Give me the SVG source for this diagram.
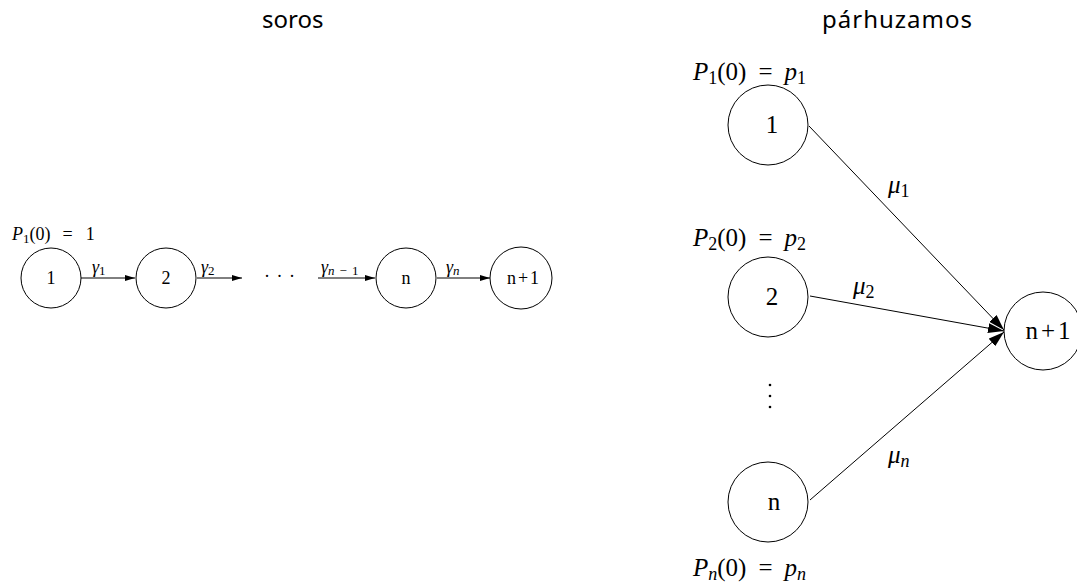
<svg xmlns="http://www.w3.org/2000/svg" width="1077" height="587" viewBox="0 0 1077 587">
<style>
.c{fill:#fff;stroke:#000;stroke-width:1}
.l{stroke:#000;stroke-width:1;fill:none}
.t{font-family:"Liberation Serif",serif;fill:#000}
.i{font-style:italic}
.n{font-style:normal}
.s{font-size:18px}
.b{font-size:25px}
.h{font-family:"Noto Sans","Open Sans",sans-serif;font-size:24px;fill:#000}
</style>
<defs>
<marker id="a" viewBox="0 0 10 6" refX="10" refY="3" markerWidth="10" markerHeight="6" markerUnits="userSpaceOnUse" orient="auto"><path d="M0,0 L10,3 L0,6 Z"/></marker>
<marker id="A" viewBox="0 0 16 10" refX="16" refY="5" markerWidth="16" markerHeight="10" markerUnits="userSpaceOnUse" orient="auto"><path d="M0,0 L16,5 L0,10 Z"/></marker>
</defs>
<text class="h" x="262" y="28">soros</text>
<text class="h" x="822" y="28" letter-spacing="1">párhuzamos</text>
<g id="edges">
<line class="l" x1="81" y1="278" x2="135" y2="278" marker-end="url(#a)"/>
<line class="l" x1="197" y1="278" x2="242" y2="278" marker-end="url(#a)"/>
<line class="l" x1="318" y1="278" x2="375" y2="278" marker-end="url(#a)"/>
<line class="l" x1="437" y1="278" x2="490" y2="278" marker-end="url(#a)"/>
<line class="l" x1="809" y1="126" x2="1004" y2="330" marker-end="url(#A)"/>
<line class="l" x1="810" y1="296" x2="1004" y2="331" marker-end="url(#A)"/>
<line class="l" x1="810" y1="500" x2="1004" y2="332" marker-end="url(#A)"/>
<text class="t i s" x="92" y="273">γ<tspan font-size="13" class="n" dy="2">1</tspan></text>
<text class="t i s" x="201" y="273">γ<tspan font-size="13" class="n" dy="2">2</tspan></text>
<text class="t i s" x="321" y="273">γ<tspan font-size="13" dy="2">n</tspan><tspan font-size="13" class="n" dx="5">−</tspan><tspan font-size="13" class="n" dx="5">1</tspan></text>
<text class="t i s" x="446" y="273">γ<tspan font-size="13" dy="2">n</tspan></text>
<text class="t i b" x="888" y="193">μ<tspan font-size="18" class="n" dy="4">1</tspan></text>
<text class="t i b" x="853" y="294">μ<tspan font-size="18" class="n" dy="4">2</tspan></text>
<text class="t i b" x="888" y="463">μ<tspan font-size="18" dy="4">n</tspan></text>
</g>
<text class="t s" x="264" y="282" letter-spacing="1">· · ·</text>
<g id="n1"><circle class="c" cx="51" cy="278" r="30"/><text class="t s" x="51" y="284" text-anchor="middle">1</text></g>
<g id="n2"><circle class="c" cx="166" cy="278" r="30"/><text class="t s" x="166" y="284" text-anchor="middle">2</text></g>
<g id="nn"><circle class="c" cx="406" cy="278" r="30"/><text class="t s" x="406" y="284" text-anchor="middle">n</text></g>
<g id="nn1"><circle class="c" cx="521" cy="278" r="31"/><text class="t s" x="523" y="284" text-anchor="middle">n<tspan dx="2">+</tspan><tspan dx="2">1</tspan></text></g>
<text class="t" x="12" y="240" font-size="18"><tspan class="i">P</tspan><tspan font-size="13" dy="3">1</tspan><tspan dy="-3">(0)</tspan><tspan dx="12">=</tspan><tspan dx="13">1</tspan></text>
<g id="r1"><circle class="c" cx="768" cy="125" r="40"/><text class="t b" x="772" y="133" text-anchor="middle">1</text></g>
<g id="r2"><circle class="c" cx="768" cy="297" r="40"/><text class="t b" x="772" y="305" text-anchor="middle">2</text></g>
<g id="rn"><circle class="c" cx="768" cy="502" r="40"/><text class="t b" x="774" y="510" text-anchor="middle">n</text></g>
<g id="rn1"><circle class="c" cx="1043" cy="331" r="39"/><text class="t b" x="1048" y="339" text-anchor="middle">n<tspan dx="3">+</tspan><tspan dx="3">1</tspan></text></g>
<text class="t b" x="693" y="80"><tspan class="i">P</tspan><tspan font-size="18" dy="4">1</tspan><tspan dy="-4">(0)</tspan><tspan dx="12">=</tspan><tspan class="i" dx="12">p</tspan><tspan font-size="18" dy="4">1</tspan></text>
<text class="t b" x="693" y="246"><tspan class="i">P</tspan><tspan font-size="18" dy="4">2</tspan><tspan dy="-4">(0)</tspan><tspan dx="12">=</tspan><tspan class="i" dx="12">p</tspan><tspan font-size="18" dy="4">2</tspan></text>
<text class="t b" x="693" y="576"><tspan class="i">P</tspan><tspan font-size="18" class="i" dy="4">n</tspan><tspan dy="-4">(0)</tspan><tspan dx="12">=</tspan><tspan class="i" dx="12">p</tspan><tspan font-size="18" class="i" dy="4">n</tspan></text>
<g fill="#000"><circle cx="770" cy="385" r="1.3"/><circle cx="770" cy="396" r="1.3"/><circle cx="770" cy="407" r="1.3"/></g>
</svg>
